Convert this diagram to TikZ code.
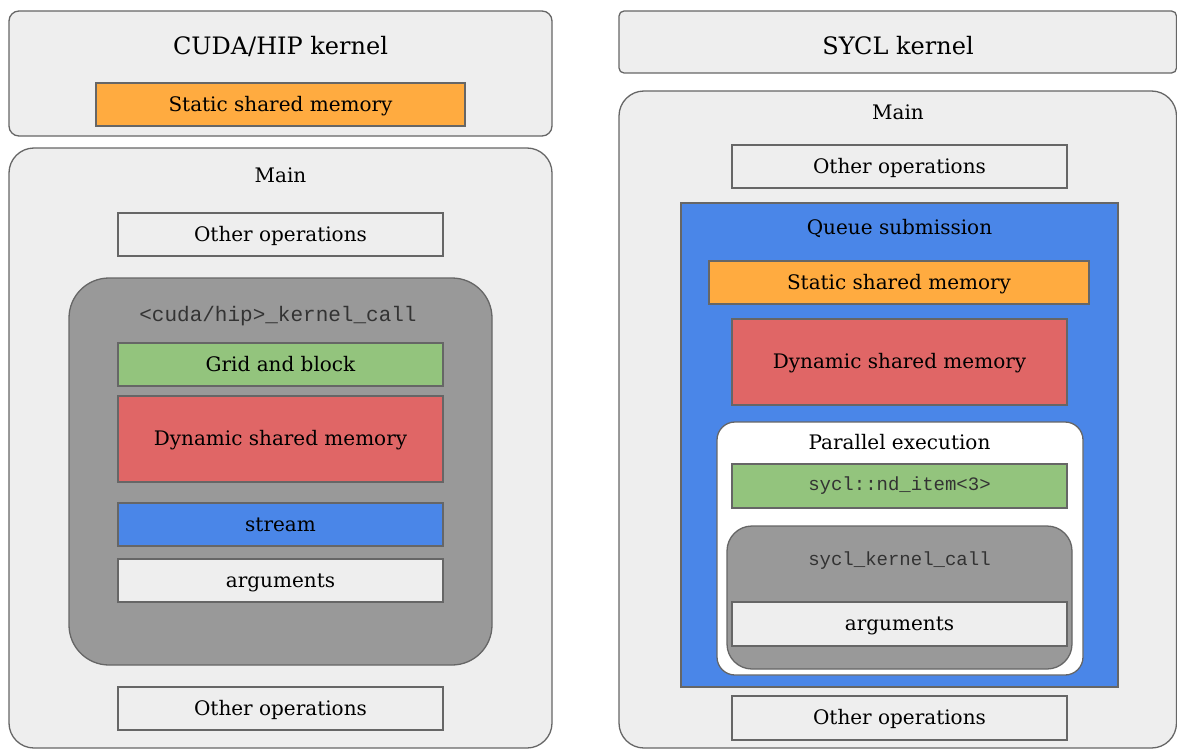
\documentclass[tikz,border=0pt]{standalone}
\usepackage{fontspec}
\setmainfont{DejaVu Serif}
\newfontfamily\codefont{Liberation Mono}
\definecolor{bg}{HTML}{EEEEEE}
\definecolor{bd}{HTML}{666666}
\definecolor{dk}{HTML}{999999}
\definecolor{og}{HTML}{FFAB40}
\definecolor{gn}{HTML}{93C47D}
\definecolor{rd}{HTML}{E06666}
\definecolor{bl}{HTML}{4A86E8}
\definecolor{cd}{HTML}{333333}
\tikzset{
  box/.style={draw=bd, line width=1.3pt, rectangle, inner sep=0pt, text height=17pt, text depth=3.5pt, font=\fontsize{20}{23}\selectfont, text=black},
  shell/.style={draw=bd, line width=1.3pt, rectangle, inner sep=0pt},
  lbl/.style={inner sep=0pt, font=\fontsize{20}{23}\selectfont, text=black},
  ttl/.style={inner sep=0pt, font=\fontsize{24}{28}\selectfont, text=black},
  code/.style={inner sep=0pt, font=\codefont\fontsize{19}{22}\selectfont, text=cd},
}
\begin{document}
\begin{tikzpicture}[x=1pt,y=-1pt]
\useasboundingbox (0,0) rectangle (1177,749);
% ---------- left ----------
\node[shell, fill=bg, rounded corners=10pt, minimum width=543pt, minimum height=125pt] (k1) at (280.5,73.5) {};
\node[ttl] (k1t) at (280.5,46) {CUDA/HIP kernel};
\node[box, fill=og, minimum width=369pt, minimum height=43pt] (s1) at (280.5,104.5) {Static shared memory};
\node[shell, fill=bg, rounded corners=25pt, minimum width=543pt, minimum height=600pt] (m1) at (280.5,448) {};
\node[lbl] (m1t) at (280.5,175) {Main};
\node[box, fill=bg, minimum width=325pt, minimum height=43pt] (o1) at (280.5,234.5) {Other operations};
\node[shell, fill=dk, rounded corners=40pt, minimum width=423pt, minimum height=387pt] (g1) at (280.5,471.5) {};
\node[code, font=\codefont\fontsize{21}{24}\selectfont] (g1t) at (278,316) {<cuda/hip>\_kernel\_call};
\node[box, fill=gn, minimum width=325pt, minimum height=43pt] (gr1) at (280.5,364.5) {Grid and block};
\node[box, fill=rd, minimum width=325pt, minimum height=86pt] (d1) at (280.5,439) {Dynamic shared memory};
\node[box, fill=bl, minimum width=325pt, minimum height=43pt] (st1) at (280.5,524.5) {stream};
\node[box, fill=bg, minimum width=325pt, minimum height=43pt] (a1) at (280.5,580.5) {arguments};
\node[box, fill=bg, minimum width=325pt, minimum height=43pt] (o1b) at (280.5,708.5) {Other operations};
% ---------- right ----------
\node[shell, fill=bg, rounded corners=5pt, minimum width=557.5pt, minimum height=62pt] (k2) at (897.75,42) {};
\node[ttl] (k2t) at (898,46) {SYCL kernel};
\node[shell, fill=bg, rounded corners=25pt, minimum width=557.5pt, minimum height=657pt] (m2) at (897.75,419.5) {};
\node[lbl] (m2t) at (898,112) {Main};
\node[box, fill=bg, minimum width=335pt, minimum height=43pt] (o2) at (899.5,166.5) {Other operations};
\node[shell, fill=bl, minimum width=437pt, minimum height=484pt] (q2) at (899.5,445) {};
\node[lbl] (q2t) at (899.5,229) {Queue submission};
\node[box, fill=og, minimum width=380pt, minimum height=43pt] (s2) at (899,282.5) {Static shared memory};
\node[box, fill=rd, minimum width=335pt, minimum height=86pt] (d2) at (899.5,362) {Dynamic shared memory};
\node[shell, fill=white, rounded corners=18pt, minimum width=366pt, minimum height=253pt] (p2) at (900,548.5) {};
\node[lbl] (p2t) at (899.5,442) {Parallel execution};
\node[shell, fill=gn, minimum width=335pt, minimum height=44pt, font=\codefont\fontsize{19}{22}\selectfont, text=cd] (n2) at (899.5,486) {sycl::nd\_item<3>};
\node[shell, fill=dk, rounded corners=25pt, minimum width=345pt, minimum height=143pt] (g2) at (899.5,597.5) {};
\node[code] (g2t) at (899.5,561) {sycl\_kernel\_call};
\node[box, fill=bg, minimum width=335pt, minimum height=44pt] (a2) at (899.5,624) {arguments};
\node[box, fill=bg, minimum width=335pt, minimum height=44pt] (o2b) at (899.5,718) {Other operations};
\end{tikzpicture}
\end{document}
